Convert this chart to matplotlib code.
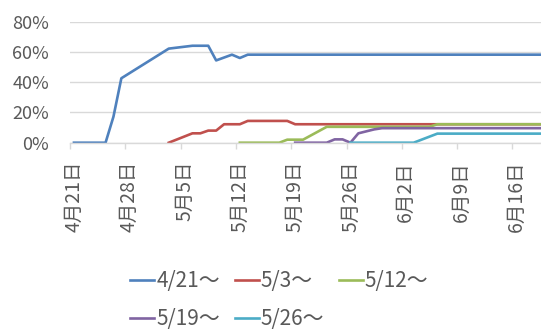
import matplotlib
matplotlib.use("Agg")
import matplotlib.pyplot as plt
from matplotlib.ticker import FixedLocator

plt.rcParams['font.family'] = ['Noto Sans CJK JP', 'DejaVu Sans']

# x positions are days counted from 4/21
tick_days = [0, 7, 14, 21, 28, 35, 42, 49, 56]
tick_labels = ["4月21日", "4月28日", "5月5日", "5月12日", "5月19日",
               "5月26日", "6月2日", "6月9日", "6月16日"]

names = ["4/21～", "5/3～", "5/12～", "5/19～", "5/26～"]
colors = ["#4F81BD", "#C0504D", "#9BBB59", "#8064A2", "#4BACC6"]

days_0421 = [0, 4, 5, 6, 12, 15, 17, 18, 20, 21, 22, 61]
vals_0421 = [0, 0, 17.2, 42.6, 62.2, 64.1, 64.1, 54.4, 58.2, 56.0, 58.2, 58.2]

days_0503 = [12, 15, 16, 17, 18, 19, 21, 22, 27, 28, 61]
vals_0503 = [0, 6.2, 6.2, 8.0, 8.0, 12.2, 12.2, 14.4, 14.4, 12.2, 12.2]

days_0512 = [21, 26, 27, 29, 32, 45, 46, 61]
vals_0512 = [0, 0, 2.0, 2.0, 10.5, 10.5, 12.2, 12.2]

days_0519 = [28, 32, 33, 34, 35, 36, 37, 38, 39, 61]
vals_0519 = [0, 0, 2.2, 2.2, 0, 6.2, 7.5, 8.8, 9.6, 9.6]

days_0526 = [35, 43, 46, 61]
vals_0526 = [0, 0, 6.0, 6.0]

all_days = [days_0421, days_0503, days_0512, days_0519, days_0526]
all_vals = [vals_0421, vals_0503, vals_0512, vals_0519, vals_0526]

grey = "#595959"
grid = "#D9D9D9"

fig = plt.figure(figsize=(5.41, 3.29), dpi=100)
ax = fig.add_axes([70 / 541, 1 - 142.7 / 329, 471 / 541, 121 / 329])

lines = []
for d, v, c, n in zip(all_days, all_vals, colors, names):
    # points sit in the middle of each day slot
    ln, = ax.plot([x + 0.5 for x in d], v, color=c, lw=1.9, label=n,
                  solid_joinstyle='round')
    lines.append(ln)

ax.set_xlim(0, 471 / 7.9)
ax.set_ylim(0, 80)
ax.set_yticks([0, 20, 40, 60, 80])
ax.set_yticklabels([f"{t}%" for t in [0, 20, 40, 60, 80]])
ax.yaxis.grid(True, color=grid, lw=1)
ax.set_axisbelow(True)

ax.set_xticks([t + 0.5 for t in tick_days])
ax.set_xticklabels(tick_labels, rotation=90, va='top', ha='center')
ax.xaxis.set_minor_locator(FixedLocator(tick_days))
ax.tick_params(axis='x', which='major', length=0, pad=13, labelsize=14, labelcolor=grey)
ax.tick_params(axis='x', which='minor', length=4.5, width=1, color=grid)
ax.tick_params(axis='y', length=0, pad=15, labelsize=13, labelcolor=grey)

for s in ['left', 'right', 'top']:
    ax.spines[s].set_visible(False)
ax.spines['bottom'].set_color(grid)
ax.spines['bottom'].set_linewidth(1)

# order handles so rows read 4/21, 5/3, 5/12 / 5/19, 5/26
order = [0, 3, 1, 4, 2]
fig.legend([lines[i] for i in order], [names[i] for i in order],
           ncol=3, loc='center left', bbox_to_anchor=(120 / 541, 1 - 300 / 329),
           frameon=False, fontsize=15, labelcolor=grey, handlelength=1.15,
           handletextpad=0.1, columnspacing=0.7, labelspacing=0.75, borderpad=0)

fig.savefig("out.png", dpi=100)
